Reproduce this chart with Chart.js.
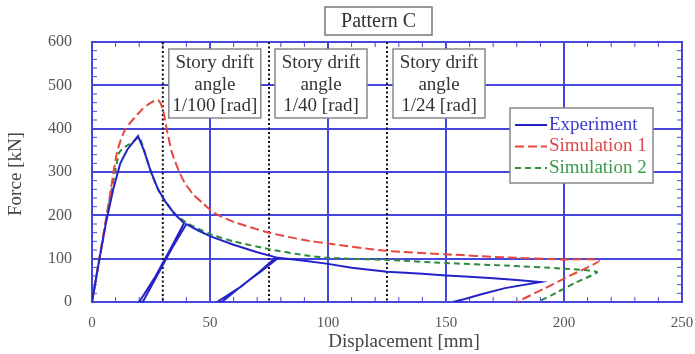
<!DOCTYPE html>
<html>
<head>
<meta charset="utf-8">
<script src="https://cdn.jsdelivr.net/npm/chart.js@4"></script>
<style>html,body{margin:0;padding:0;background:#fff}</style>
</head>
<body>
<div style="width:695px;height:354px"><canvas id="forceChart"></canvas></div>
<script>
// Experiment (with the two unload/reload loops and the last unloading)
var expX = [0, 3, 6, 9, 12, 15, 19.5, 22, 25, 28, 31, 35, 39, 33, 27, 20, 21.5, 28, 34, 40, 45, 50, 60, 70, 78, 71, 63, 53, 55, 64, 72, 79, 90, 100, 110, 125, 140, 150, 160, 170, 180, 190, 175, 165, 158, 153];
var expY = [0, 95, 185, 260, 320, 352, 383, 350, 300, 260, 232, 203, 182, 120, 60, 0, 0, 65, 125, 180, 165, 152, 132, 115, 103, 70, 35, 0, 0, 40, 72, 102, 95, 88, 79, 70, 65, 61, 58, 55, 51, 46, 32, 18, 7, 0];
// Simulation 1
var sim1X = [0, 4, 8, 10.6, 14, 21, 25, 28, 30, 32, 34, 37, 39.4, 43, 47, 52, 60, 75, 90, 100, 125, 150, 175, 200, 215, 203, 192, 180];
var sim1Y = [0, 130, 260, 345, 397, 443, 460, 466, 445, 390, 343, 300, 274, 248, 228, 205, 185, 160, 143, 135, 118, 110, 103, 98, 96, 62, 32, 0];
// Simulation 2
var sim2X = [0, 4, 8, 10.5, 11.5, 14, 17, 20, 22, 25, 28, 31, 35, 40, 50, 60, 75, 90, 100, 125, 150, 175, 200, 214, 205, 197, 189];
var sim2Y = [0, 125, 250, 320, 345, 358, 368, 380, 352, 300, 260, 233, 205, 183, 157, 140, 122, 108, 102, 97, 90, 84, 77, 69, 45, 22, 0];

var seriesNames = ['Experiment', 'Simulation 1', 'Simulation 2'];
var driftX = [30, 75, 125];
var driftLabels = ['1/100 [rad]', '1/40 [rad]', '1/24 [rad]'];
var xTicks = [0, 50, 100, 150, 200, 250];
var yTicks = [0, 100, 200, 300, 400, 500, 600];

var serif = "'Liberation Serif', 'Times New Roman', serif";
var gridBlue = '#4646dc';
var lineColors = ['#2323c8', '#e8473f', '#2e8b3c'];
var textColors = ['#3b3bd0', '#e04848', '#3a9a4a'];
var dashes = [[], [9, 4], [6, 4]];
var tensions = [0, 0.25, 0.2];

function pts(xs, ys) {
  return xs.map(function (x, i) { return { x: x, y: ys[i] }; });
}

var decor = {
  id: 'decor',
  beforeDatasetsDraw: function (chart) {
    var c = chart.ctx, a = chart.chartArea, xs = chart.scales.x, ys = chart.scales.y;
    c.save();
    c.strokeStyle = gridBlue;
    c.lineWidth = 1;
    c.beginPath();
    for (var v = 10; v < 250; v += 10) {
      var px = xs.getPixelForValue(v);
      c.moveTo(px, a.bottom); c.lineTo(px, a.bottom - 5);
      c.moveTo(px, a.top); c.lineTo(px, a.top + 5);
    }
    for (v = 20; v < 600; v += 20) {
      var py = ys.getPixelForValue(v);
      c.moveTo(a.left, py); c.lineTo(a.left + 5, py);
      c.moveTo(a.right, py); c.lineTo(a.right - 5, py);
    }
    c.stroke();
    c.lineWidth = 2;
    c.strokeRect(a.left, a.top, a.right - a.left, a.bottom - a.top);
    // story drift lines
    c.strokeStyle = '#111';
    c.setLineDash([2, 2.5]);
    c.lineWidth = 2;
    driftX.forEach(function (d) {
      var px = xs.getPixelForValue(d);
      c.beginPath(); c.moveTo(px, a.top); c.lineTo(px, a.bottom); c.stroke();
    });
    c.restore();
  },
  afterDatasetsDraw: function (chart) {
    var c = chart.ctx, xs = chart.scales.x;
    c.save();
    c.textAlign = 'center';
    c.textBaseline = 'middle';
    c.lineWidth = 1.5;
    c.strokeStyle = '#888';
    // drift boxes
    driftX.forEach(function (d, i) {
      var left = xs.getPixelForValue(d) + 6, top = 49, w = 92, h = 69;
      c.fillStyle = '#fff';
      c.fillRect(left, top, w, h);
      c.strokeRect(left, top, w, h);
      c.fillStyle = '#333';
      c.font = '19px ' + serif;
      c.fillText('Story drift', left + w / 2, top + 14);
      c.fillText('angle', left + w / 2, top + 36);
      c.fillText(driftLabels[i], left + w / 2, top + 57);
    });
    // legend
    c.fillStyle = '#fff';
    c.fillRect(510, 108, 143, 75);
    c.strokeRect(510, 108, 143, 75);
    c.textAlign = 'left';
    seriesNames.forEach(function (name, i) {
      var y = 125 + i * 21.5;
      c.strokeStyle = lineColors[i];
      c.lineWidth = 2;
      c.setLineDash(dashes[i]);
      c.beginPath(); c.moveTo(515, y); c.lineTo(547, y); c.stroke();
      c.setLineDash([]);
      c.fillStyle = textColors[i];
      c.font = '19px ' + serif;
      c.fillText(name, 549, y);
    });
    // title
    c.strokeStyle = '#777';
    c.lineWidth = 1.5;
    c.fillStyle = '#fff';
    c.fillRect(325, 7, 107, 28);
    c.strokeRect(325, 7, 107, 28);
    c.textAlign = 'center';
    c.fillStyle = '#333';
    c.font = '20px ' + serif;
    c.fillText('Pattern C', 378.5, 21.5);
    // axis titles
    c.fillStyle = '#444';
    c.font = '19px ' + serif;
    c.fillText('Displacement [mm]', 404, 342);
    c.translate(16, 174);
    c.rotate(-Math.PI / 2);
    c.fillText('Force [kN]', 0, 0);
    c.restore();
  }
};

var ctx = document.getElementById('forceChart').getContext('2d');
var forceChart = new Chart(ctx, {
  type: 'scatter',
  data: {
    datasets: [
      { label: seriesNames[0], data: pts(expX, expY) },
      { label: seriesNames[1], data: pts(sim1X, sim1Y) },
      { label: seriesNames[2], data: pts(sim2X, sim2Y) }
    ].map(function (d, i) {
      d.borderColor = lineColors[i];
      d.borderDash = dashes[i];
      d.borderWidth = 2;
      d.tension = tensions[i];
      d.showLine = true; d.pointRadius = 0; d.fill = false;
      return d;
    })
  },
  plugins: [decor],
  options: {
    responsive: true,
    maintainAspectRatio: false,
    animation: false,
    layout: { padding: { left: 0, right: 13, top: 42, bottom: 0 } },
    plugins: { legend: { display: false }, tooltip: { enabled: false } },
    scales: {
      x: {
        type: 'linear', min: 0, max: 250,
        afterBuildTicks: function (s) { s.ticks = xTicks.map(function (v) { return { value: v }; }); },
        afterFit: function (s) { s.height = 52; s.paddingLeft = 0; s.paddingRight = 0; },
        ticks: { padding: 12, color: '#555', font: { family: serif, size: 15 } },
        grid: { color: gridBlue, lineWidth: 2, drawTicks: false },
        border: { color: gridBlue, width: 2 }
      },
      y: {
        type: 'linear', min: 0, max: 600,
        afterBuildTicks: function (s) { s.ticks = yTicks.map(function (v) { return { value: v }; }); },
        afterFit: function (s) { s.width = 92; s.paddingTop = 0; s.paddingBottom = 0; },
        ticks: { padding: 20, color: '#555', font: { family: serif, size: 16 } },
        grid: { color: gridBlue, lineWidth: 2, drawTicks: false },
        border: { color: gridBlue, width: 2 }
      }
    }
  }
});
</script>
</body>
</html>
